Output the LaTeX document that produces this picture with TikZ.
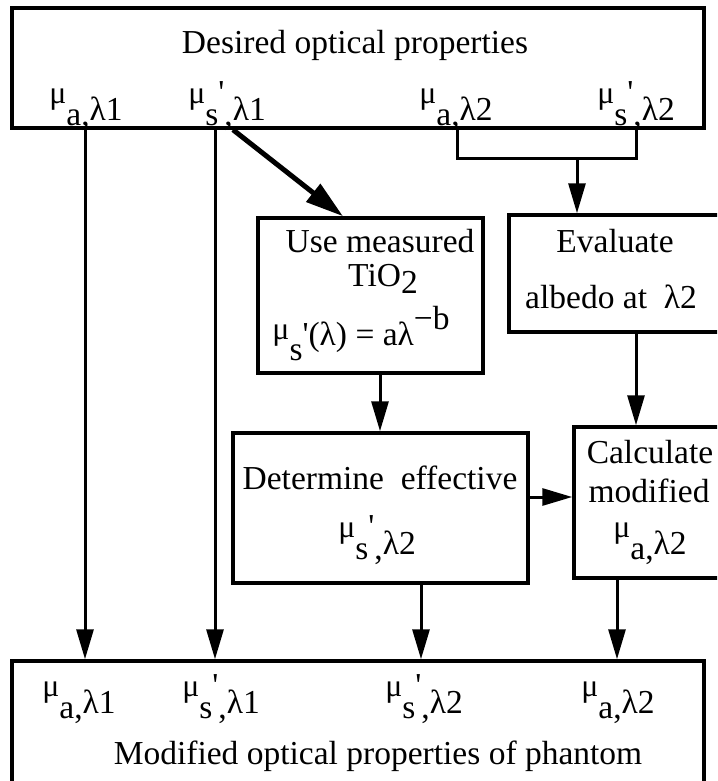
\documentclass[tikz,border=0pt]{standalone}
\usepackage{fontspec}
\usepackage{graphicx}
\setmainfont{Liberation Serif}
\usetikzlibrary{arrows.meta}
% small raised mu, then subscript and wavelength
\newcommand{\smu}{\raisebox{0.5em}{\scalebox{0.95}{μ}}}
\newcommand{\mua}[1]{\smu\raisebox{-0.15em}{a,}λ#1}
\newcommand{\mus}[1]{\smu\raisebox{-0.15em}{s\raisebox{0.65em}{\textquotesingle},}λ#1}
\begin{document}
\begin{tikzpicture}[x=0.5pt,y=-0.5pt,
    box/.style={draw,line width=1.75pt,inner sep=0pt},
    txt/.style={anchor=base,inner sep=0pt},
    arr/.style={line width=1.5pt,-{Triangle[length=15pt,width=8.5pt]}},
    thk/.style={line width=2.5pt,-{Triangle[length=19pt,width=11pt]}},
    font=\fontsize{16.75}{20}\selectfont]
  \useasboundingbox (0,0) rectangle (717,781);
  \clip (0,0) rectangle (717,781);
  % boxes
  \node[box,minimum width=346pt,minimum height=60pt] (top) at (358,68) {};
  \node[box,minimum width=112.5pt,minimum height=77.5pt] (use) at (370.5,295.5) {};
  \node[box,minimum width=108pt,minimum height=58.5pt] (eval) at (617,273.5) {};
  \node[box,minimum width=75.5pt,minimum height=75.5pt] (calc) at (649.5,502.5) {};
  \node[box,minimum width=147.5pt,minimum height=75pt] (det) at (380.5,508) {};
  \node[box,minimum width=346pt,minimum height=61pt] (bot) at (358,722) {};
  % texts
  \node[txt] (ttl) at (355,54) {Desired optical properties};
  \node[txt] (ta1) at (86,120) {\mua{1}};
  \node[txt] (ts1) at (227,120) {\mus{1}};
  \node[txt] (ta2) at (456,120) {\mua{2}};
  \node[txt] (ts2) at (636,120) {\mus{2}};
  \node[txt] (u1) at (380,252) {Use measured};
  \node[txt] (u2) at (383,286) {TiO\raisebox{-0.22em}{2}};
  \node[txt] (u3) at (361,345) {\raisebox{0.15em}{\scalebox{0.95}{μ}}\raisebox{-0.45em}{s}\textquotesingle(λ) = aλ\raisebox{0.45em}{−b}};
  \node[txt] (e1) at (615,252) {Evaluate};
  \node[txt] (e2) at (611,308) {albedo at~ λ2};
  \node[txt] (d1) at (380,489) {Determine~ effective};
  \node[txt] (d2) at (377,554) {\mus{2}};
  \node[txt] (c1) at (650,463) {Calculate};
  \node[txt] (c2) at (649,502) {modified};
  \node[txt] (c3) at (650,554) {\mua{2}};
  \node[txt] (ba1) at (79,713) {\mua{1}};
  \node[txt] (bs1) at (221,713) {\mus{1}};
  \node[txt] (bs2) at (424,713) {\mus{2}};
  \node[txt] (ba2) at (618,713) {\mua{2}};
  \node[txt] (btl) at (378,764) {Modified optical properties of phantom};
  % where the connectors run
  \coordinate (xa1) at (85,0);
  \coordinate (xs1) at (215,0);
  \coordinate (x0) at (233,0);
  \coordinate (xdg) at (343,0);
  \coordinate (xu) at (380,0);
  \coordinate (xd) at (421,0);
  \coordinate (xa2) at (457,0);
  \coordinate (xm) at (577,0);
  \coordinate (xc) at (617,0);
  \coordinate (xs2) at (636,0);
  \coordinate (yb) at (0,158);
  \coordinate (yh) at (0,497);
  % connectors
  \draw[arr] (top.south -| xa1) -- (bot.north -| xa1);
  \draw[arr] (top.south -| xs1) -- (bot.north -| xs1);
  \draw[thk] (top.south -| x0) -- (use.north -| xdg);
  \draw[line width=1.5pt] (top.south -| xa2) |- (yb -| xs2) -- (top.south -| xs2);
  \draw[arr] (yb -| xm) -- (eval.north -| xm);
  \draw[arr] (use.south -| xu) -- (det.north -| xu);
  \draw[arr] (eval.south -| xs2) -- (calc.north -| xs2);
  \draw[arr] (det.east |- yh) -- (calc.west |- yh);
  \draw[arr] (det.south -| xd) -- (bot.north -| xd);
  \draw[arr] (calc.south -| xc) -- (bot.north -| xc);
\end{tikzpicture}
\end{document}
